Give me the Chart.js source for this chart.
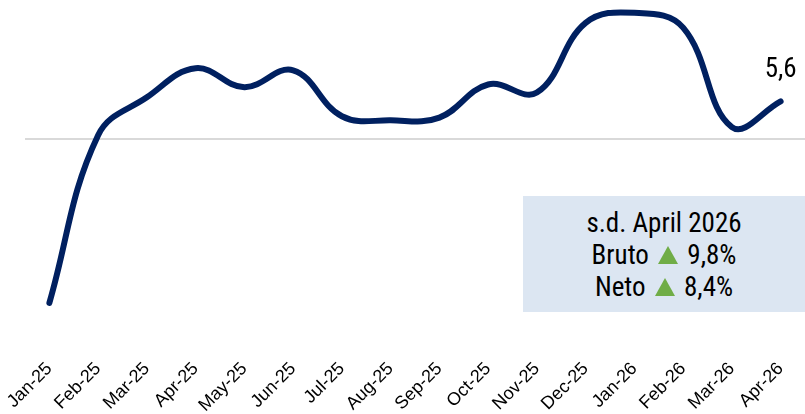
<!DOCTYPE html>
<html><head><meta charset="utf-8">
<script src="https://cdn.jsdelivr.net/npm/chart.js@4"></script>
<style>
html,body{margin:0;padding:0;background:#fff;}
#wrap{position:relative;width:805px;height:414px;}
#box{position:absolute;left:523px;top:196px;width:282px;height:116px;box-sizing:border-box;padding-top:11px;background:#dce6f2;font-family:'Liberation Sans Narrow','Arial Narrow','Roboto Condensed','DejaVu Sans Condensed',sans-serif;font-size:27px;line-height:32px;color:#000;text-align:center;}
.tri{display:inline-block;width:0;height:0;margin:0 3px;border-left:10px solid transparent;border-right:10px solid transparent;border-bottom:18px solid #70ad47;}
</style>
</head><body>
<div id="wrap">
<canvas id="c" width="805" height="414"></canvas>
<div id="box">
<div>s.d. April 2026</div>
<div>Bruto <span class="tri"></span> 9,8%</div>
<div>Neto <span class="tri"></span> 8,4%</div>
</div>
</div>
<script>
const categories = ['Jan-25','Feb-25','Mar-25','Apr-25','May-25','Jun-25','Jul-25','Aug-25','Sep-25','Oct-25','Nov-25','Dec-25','Jan-26','Feb-26','Mar-26','Apr-26'];
const values = [-24.2, 0.6, 6.2, 10.5, 7.7, 10.2, 3.4, 2.8, 3.2, 8.1, 6.9, 17.2, 18.7, 16.5, 1.8, 5.6];
const lastLabel = '5,6';

const labelFont = "'Liberation Sans Narrow','Arial Narrow','Roboto Condensed','DejaVu Sans Condensed',sans-serif";

const lastValuePlugin = {
  id: 'lastValue',
  afterDatasetsDraw(chart) {
    const meta = chart.getDatasetMeta(0);
    const pt = meta.data[meta.data.length - 1];
    const ctx = chart.ctx;
    ctx.save();
    ctx.font = '27px ' + labelFont;
    ctx.fillStyle = '#000';
    ctx.textAlign = 'center';
    ctx.textBaseline = 'alphabetic';
    ctx.fillText(lastLabel, pt.x, pt.y - 24);
    ctx.restore();
  }
};

new Chart(document.getElementById('c'), {
  type: 'line',
  data: {
    labels: categories,
    datasets: [{
      data: values,
      borderColor: '#002060',
      borderWidth: 6,
      borderCapStyle: 'round',
      borderJoinStyle: 'round',
      tension: 0.4,
      pointRadius: 0,
      fill: false
    }]
  },
  options: {
    responsive: false,
    animation: false,
    layout: { padding: { left: 25, right: 0, top: 4, bottom: -6 } },
    plugins: { legend: { display: false }, tooltip: { enabled: false } },
    scales: {
      x: {
        offset: true,
        grid: { display: false, drawTicks: false },
        border: { display: false },
        ticks: {
          minRotation: 45, maxRotation: 45, padding: 4,
          color: '#000',
          font: { family: "'Liberation Sans', Arial, sans-serif", size: 18 }
        }
      },
      y: {
        min: -31.8, max: 20,
        ticks: { display: false, stepSize: 100 },
        border: { display: false },
        grid: {
          drawTicks: false,
          color: (c) => (c.tick && c.tick.value === 0 ? '#d9d9d9' : 'rgba(0,0,0,0)'),
          lineWidth: 2
        },
        afterBuildTicks: (axis) => { axis.ticks = [{ value: 0 }]; }
      }
    }
  },
  plugins: [lastValuePlugin]
});
</script>
</body></html>
